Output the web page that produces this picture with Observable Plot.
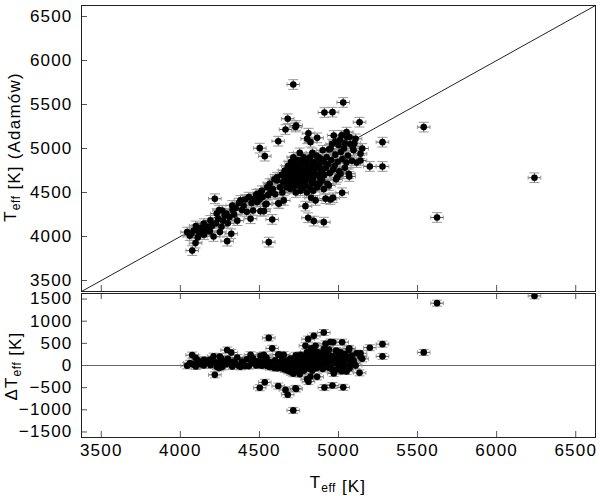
<!DOCTYPE html>
<html><head><meta charset="utf-8">
<script src="https://cdn.jsdelivr.net/npm/d3@7"></script>
<script src="https://cdn.jsdelivr.net/npm/@observablehq/plot@0.6"></script>
<style>
body{margin:0;background:#fff;}
#chart{width:600px;height:496px;}
#chart svg{display:block;}
</style></head><body><div id="chart"></div>
<script>
// [Teff (reference), Teff (Adamów)] in K
const stars = [
[4043,4050],[4060,4010],[4075,3840],[4085,4069],[4096,3925],[4070,4030],[4100,4080],[4110,3990],[4120,4040],[4130,4100],
[4148,4146],[4150,4020],[4165,4080],[4186,4058],[4190,4183],[4200,4120],[4210,4000],[4218,4429],[4225,4150],[4240,4200],
[4250,4050],[4260,4110],[4265,4296],[4270,4180],[4280,4240],[4296,3947],[4300,4150],[4290,4260],[4310,4220],[4322,4031],
[4330,4300],[4328,4353],[4340,4250],[4350,4320],[4360,4180],[4098,4120],[4140,4060],[4175,4110],[4230,4260],[4245,4300],
[4370,4380],[4380,4410],[4390,4300],[4400,4350],[4410,4420],[4420,4280],[4433,4447],[4444,4202],[4450,4380],[4460,4296],
[4470,4430],[4480,4480],[4486,4391],[4496,4486],[4500,4420],[4502,5004],[4507,4288],[4515,4520],[4520,4450],[4528,4288],
[4534,4913],[4538,4364],[4545,4372],[4549,4561],[4555,4470],[4559,3936],[4565,4600],[4570,4500],[4581,4194],[4585,4540],
[4595,4650],[4600,4480],[4612,4674],[4612,4637],[4619,4378],[4619,5083],[4623,4372],[4630,4560],[4640,4700],[4645,4500],
[4654,4410],[4650,4620],[4660,4750],[4665,5216],[4670,4560],[4675,4680],[4679,5338],[4680,4800],[4685,4620],[4690,4720],
[4695,4540],[4700,4850],[4700,4660],[4705,4760],[4710,4600],[4714,5727],[4715,4900],[4717,4561],[4720,4700],[4725,4800],
[4728,5244],[4730,4640],[4732,5262],[4735,4750],[4740,4870],[4745,4580],[4750,4690],[4755,4950],[4760,4780],[4760,4620],
[4765,4720],[4770,4830],[4775,4660],[4780,4900],[4785,4760],[4790,4600],[4791,4345],[4795,4700],[4800,4820],[4802,5110],
[4805,4650],[4808,4213],[4810,5174],[4812,4760],[4815,4880],[4820,4560],[4823,5072],[4825,4710],[4827,4440],[4830,4800],
[4835,4950],[4840,4660],[4844,4175],[4845,4740],[4850,4850],[4855,4410],[4855,4600],[4860,4780],[4865,4561],[4865,5121],
[4870,4700],[4875,4900],[4880,4820],[4885,4650],[4890,4750],[4897,4637],[4900,4980],[4905,4850],[4907,4163],[4907,4538],
[4911,5409],[4910,4700],[4918,4430],[4920,4780],[4925,4900],[4930,4600],[4935,4820],[4939,4580],[4945,4720],[4949,4420],
[4950,5000],[4955,4870],[4962,5413],[4966,4440],[4965,4760],[4970,5148],[4975,4800],[4980,4930],[4985,4650],[4992,4674],
[4995,4850],[5000,5040],[5005,4740],[5013,4713],[5015,4960],[5023,4497],[5025,4880],[5030,5523],[5035,5000],[5040,4780],
[5050,4840],[5051,5186],[5055,5129],[5060,4920],[5065,4713],[5068,4682],[5075,5050],[5085,4860],[5095,4980],[5108,5110],
[5115,4840],[5133,5299],[5139,4940],[5139,4864],[5150,5000],[5198,4796],[5278,4796],[5278,5072],[5539,5243],[5623,4216],
[6239,4668],[4680,4700],[4700,4780],[4720,4620],[4740,4720],[4750,4820],[4760,4860],[4770,4700],[4780,4640],[4790,4860],
[4800,4740],[4810,4680],[4820,4900],[4830,4620],[4840,4830],[4850,4700],[4860,4920],[4870,4800],[4880,4600],[4890,4880],
[4900,4760],[4720,4860],[4740,4620],[4660,4640],[4690,4580],[4710,4800],[4780,4560],[4800,4500],[4840,4520],[4760,4520],
[4730,4500],[4980,5080],[5010,5100],[5040,5060],[5070,5130],[5090,5020],[5020,5150],[4960,5050],[4940,4990],[5100,5060]
];
const errTeff = 40;      // K, typical uncertainty of reference Teff
const errAdamow = 55;    // K, typical uncertainty of Adamów Teff
const xTicks = [3500, 4000, 4500, 5000, 5500, 6000, 6500];
const yTicks = [3500, 4000, 4500, 5000, 5500, 6000, 6500];
const deltaTicks = [-1500, -1000, -500, 0, 500, 1000, 1500];
const tempDomain = [3375, 6625];
const deltaDomain = [-1625, 1625];

const data = stars.map(([x, y]) => ({x, y, d: x - y}));
const errDelta = Math.hypot(errTeff, errAdamow);

const font = "'Liberation Sans', Arial, Helvetica, sans-serif";
const fmt = d3.format("d");
const hCap = {draw(ctx, size){const r = Math.sqrt(size/Math.PI); ctx.moveTo(-r,0); ctx.lineTo(r,0);}};
const vCap = {draw(ctx, size){const r = Math.sqrt(size/Math.PI); ctx.moveTo(0,-r); ctx.lineTo(0,r);}};

function pointMarks(key, err) {
  const bar = {stroke: "#555", strokeWidth: 1, clip: true};
  const cap = {stroke: "#999", strokeWidth: 1, fill: "none", clip: true};
  return [
    Plot.link(data, {x1: d => d.x - errTeff, x2: d => d.x + errTeff, y1: key, y2: key, ...bar}),
    Plot.link(data, {x1: "x", x2: "x", y1: d => d[key] - err, y2: d => d[key] + err, ...bar}),
    Plot.dot(data, {x: d => d.x - errTeff, y: key, symbol: vCap, r: 2, ...cap}),
    Plot.dot(data, {x: d => d.x + errTeff, y: key, symbol: vCap, r: 2, ...cap}),
    Plot.dot(data, {x: "x", y: d => d[key] - err, symbol: hCap, r: 5, ...cap}),
    Plot.dot(data, {x: "x", y: d => d[key] + err, symbol: hCap, r: 5, ...cap}),
    Plot.dot(data, {x: "x", y: key, r: 3.3, fill: "#000", stroke: "none", clip: true})
  ];
}

const style = {fontFamily: font, fontSize: "17px", letterSpacing: "1.2px", color: "#000", background: "#fff", overflow: "visible"};

const topPlot = Plot.plot({
  width: 600, height: 292,
  marginLeft: 81, marginRight: 5, marginTop: 5, marginBottom: 1,
  style,
  x: {domain: tempDomain, axis: null},
  y: {domain: tempDomain},
  marks: [
    Plot.axisY(yTicks, {anchor: "left", tickSize: 0, tickPadding: 9, label: null, fontSize: 17, tickFormat: fmt}),
    Plot.tickY(yTicks, {y: d => d, insetRight: 508, stroke: "#555"}),
    Plot.tickX(xTicks, {x: d => d, insetTop: 280, stroke: "#555"}),
    Plot.line(tempDomain, {x: d => d, y: d => d, stroke: "#222", strokeWidth: 1}),
    ...pointMarks("y", errAdamow),
    Plot.frame({stroke: "#222"})
  ]
});

const botPlot = Plot.plot({
  width: 600, height: 204,
  marginLeft: 81, marginRight: 5, marginTop: 1, marginBottom: 59,
  style,
  x: {domain: tempDomain},
  y: {domain: deltaDomain},
  marks: [
    Plot.axisY(deltaTicks, {anchor: "left", tickSize: 0, tickPadding: 9, label: null, fontSize: 17, tickFormat: fmt}),
    Plot.axisX(xTicks, {anchor: "bottom", tickSize: 0, tickPadding: 6, label: null, fontSize: 17, tickFormat: fmt}),
    Plot.tickY(deltaTicks, {y: d => d, insetRight: 508, stroke: "#555"}),
    Plot.tickX(xTicks, {x: d => d, insetTop: 138, stroke: "#555"}),
    Plot.tickX(xTicks, {x: d => d, insetBottom: 138, stroke: "#555"}),
    Plot.ruleY([0], {stroke: "#666", strokeWidth: 1}),
    ...pointMarks("d", errDelta),
    Plot.frame({stroke: "#222"})
  ]
});

const chart = document.getElementById("chart");
chart.append(topPlot, botPlot);

function addLabel(svg, x, y, rotate, parts) {
  const t = d3.select(svg).append("text")
    .attr("transform", `translate(${x},${y})` + (rotate ? " rotate(-90)" : ""))
    .attr("text-anchor", "middle")
    .attr("font-family", font)
    .attr("font-size", 17)
    .attr("letter-spacing", "1.2px")
    .attr("fill", "#000");
  for (const [txt, sub] of parts) {
    if (sub) {
      t.append("tspan").attr("font-size", 12).attr("letter-spacing", "0.5px").attr("dy", "0.35em").text(txt);
      t.append("tspan").attr("dy", "-0.35em").text("");
    } else {
      t.append("tspan").text(txt);
    }
  }
}
addLabel(topPlot, 16, 147, true, [["T"], ["eff", true], [" [K] (Adamów)"]]);
addLabel(botPlot, 17, 74, true, [["ΔT"], ["eff", true], [" [K]"]]);
addLabel(botPlot, 338, 196, false, [["T"], ["eff", true], [" [K]"]]);
</script></body></html>
